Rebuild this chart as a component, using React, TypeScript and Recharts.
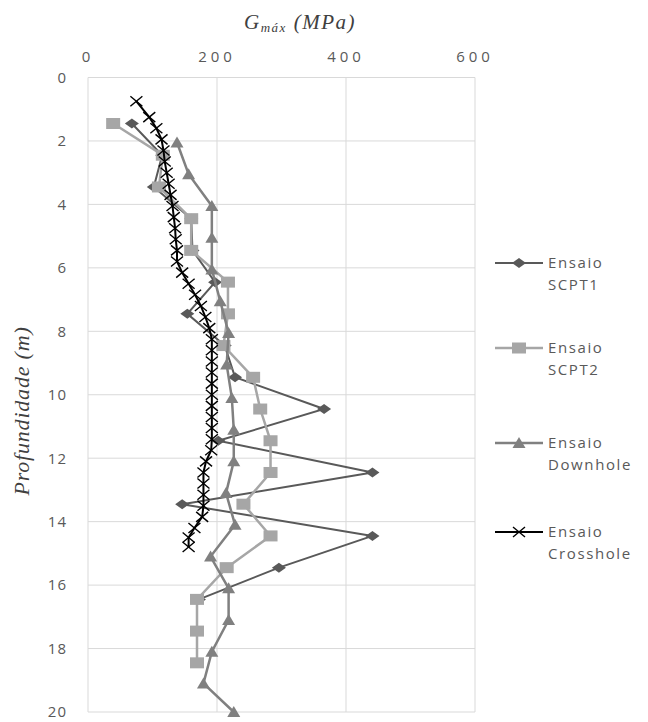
import React from "react";
import {
  CartesianGrid,
  Legend,
  Scatter,
  ScatterChart,
  XAxis,
  YAxis,
} from "recharts";

// Gmáx (MPa) em função da profundidade (m)
const scpt1Depth = [1.45, 2.45, 3.45, 4.45, 5.45, 6.45, 7.45, 8.45, 9.45, 10.45, 11.45, 12.45, 13.45, 14.45, 15.45, 16.45];
const scpt1G = [68, 115, 102, 160, 162, 197, 154, 212, 228, 366, 202, 441, 146, 441, 296, 172];

const scpt2Depth = [1.45, 2.45, 3.45, 4.45, 5.45, 6.45, 7.45, 8.45, 9.45, 10.45, 11.45, 12.45, 13.45, 14.45, 15.45, 16.45, 17.45, 18.45];
const scpt2G = [39, 116, 110, 160, 160, 217, 217, 210, 256, 267, 283, 283, 241, 283, 215, 169, 169, 169];

const downDepth = [2.05, 3.05, 4.05, 5.05, 6.05, 7.05, 8.05, 9.05, 10.1, 11.1, 12.1, 13.1, 14.1, 15.1, 16.1, 17.1, 18.1, 19.1, 20];
const downG = [138, 156, 192, 192, 192, 205, 218, 215, 223, 226, 226, 214, 228, 190, 218, 218, 192, 179, 226];

const crossDepth = [
  0.75, 1.25, 1.6, 1.95, 2.3, 2.65, 3.0, 3.35, 3.7, 4.05, 4.4, 4.75, 5.1, 5.45, 5.8, 6.15, 6.5, 6.85, 7.2, 7.55,
  7.9, 8.25, 8.6, 8.95, 9.3, 9.65, 10.0, 10.35, 10.7, 11.05, 11.4, 11.75, 12.1, 12.45, 12.8, 13.15, 13.5, 13.85,
  14.2, 14.5, 14.8,
];
const crossG = [
  75, 95, 106, 114, 117, 119, 122, 125, 128, 131, 133, 135, 136, 138, 138, 146, 156, 166, 175, 182,
  188, 192, 192, 192, 192, 192, 192, 192, 192, 192, 192, 191, 183, 179, 179, 179, 179, 177,
  165, 156, 156,
];

const xTicks = [0, 200, 400, 600];
const yTicks = [0, 2, 4, 6, 8, 10, 12, 14, 16, 18, 20];

const toRows = (d: number[], g: number[]) => d.map((depth, i) => ({ depth, g: g[i] }));

const C1 = "#595959";
const C2 = "#a6a6a6";
const C3 = "#808080";
const C4 = "#000000";
const TXT = "#595959";

const Diamond = ({ cx, cy }: any) => (
  <polygon points={`${cx - 7},${cy} ${cx},${cy - 5} ${cx + 7},${cy} ${cx},${cy + 5}`} fill={C1} />
);
const Square = ({ cx, cy }: any) => <rect x={cx - 7} y={cy - 5.5} width={14} height={11} fill={C2} />;
const Tri = ({ cx, cy }: any) => (
  <polygon points={`${cx},${cy - 6} ${cx + 6.5},${cy + 5} ${cx - 6.5},${cy + 5}`} fill={C3} />
);
const Cross = ({ cx, cy }: any) => (
  <g stroke={C4} strokeWidth={1.4}>
    <line x1={cx - 6} y1={cy - 5} x2={cx + 6} y2={cy + 5} />
    <line x1={cx + 6} y1={cy - 5} x2={cx - 6} y2={cy + 5} />
  </g>
);

const legendItems = [
  { l1: "Ensaio", l2: "SCPT1", color: C1, w: 2, Mark: Diamond, y: 33 },
  { l1: "Ensaio", l2: "SCPT2", color: C2, w: 2.5, Mark: Square, y: 118 },
  { l1: "Ensaio", l2: "Downhole", color: C3, w: 2.5, Mark: Tri, y: 213 },
  { l1: "Ensaio", l2: "Crosshole", color: C4, w: 2, Mark: Cross, y: 302 },
];

function LegendBox() {
  return (
    <svg width={168} height={340}>
      {legendItems.map((it) => (
        <g key={it.l2}>
          <line x1={15} y1={it.y} x2={63} y2={it.y} stroke={it.color} strokeWidth={it.w} />
          <it.Mark cx={39} cy={it.y} />
          <text x={68} y={it.y + 5} fill={TXT} fontSize={15} fontFamily="Open Sans" letterSpacing={1.6}>
            {it.l1}
          </text>
          <text x={68} y={it.y + 27} fill={TXT} fontSize={15} fontFamily="Open Sans" letterSpacing={1.6}>
            {it.l2}
          </text>
        </g>
      ))}
    </svg>
  );
}

const tickStyle = { fill: TXT, fontSize: 15, fontFamily: "Open Sans", letterSpacing: 4 };

export default function App() {
  return (
    <div style={{ position: "relative", width: 640, height: 714 }}>
      <div
        style={{
          position: "absolute",
          left: 142,
          width: 300,
          top: 2,
          textAlign: "center",
          fontFamily: "Liberation Serif",
          fontStyle: "italic",
          fontSize: 21,
          letterSpacing: 1.5,
          color: "#404040",
        }}
      >
        G<sub style={{ fontSize: 13, verticalAlign: "-3px" }}>máx</sub> (MPa)
      </div>
      <div
        style={{
          position: "absolute",
          left: 14,
          top: 403,
          transform: "translate(-50%, -50%) rotate(-90deg)",
          whiteSpace: "nowrap",
          fontFamily: "Liberation Serif",
          fontStyle: "italic",
          fontSize: 22,
          letterSpacing: 0.8,
          color: "#404040",
        }}
      >
        Profundidade (m)
      </div>
      <ScatterChart width={640} height={714} margin={{ top: 40, right: 173, bottom: 10, left: 0 }}>
        <CartesianGrid stroke="#d9d9d9" strokeWidth={1} />
        <XAxis
          type="number"
          dataKey="g"
          orientation="top"
          domain={[0, 600]}
          ticks={xTicks}
          height={29.5}
          axisLine={false}
          tickLine={false}
          tickSize={0}
          tickMargin={16}
          tick={tickStyle}
        />
        <YAxis
          type="number"
          dataKey="depth"
          domain={[0, 20]}
          ticks={yTicks}
          reversed
          width={80}
          axisLine={false}
          tickLine={false}
          tickSize={0}
          tickMargin={21}
          tick={{ ...tickStyle, letterSpacing: 1 }}
        />
        <Legend
          content={() => <LegendBox />}
          layout="horizontal"
          verticalAlign="middle"
          align="center"
          wrapperStyle={{ left: 472, top: 222, width: 168 }}
        />
        <Scatter
          name="Ensaio SCPT1"
          data={toRows(scpt1Depth, scpt1G)}
          line={{ stroke: C1, strokeWidth: 2 }}
          lineType="joint"
          shape={Diamond}
          isAnimationActive={false}
        />
        <Scatter
          name="Ensaio SCPT2"
          data={toRows(scpt2Depth, scpt2G)}
          line={{ stroke: C2, strokeWidth: 2.5 }}
          lineType="joint"
          shape={Square}
          isAnimationActive={false}
        />
        <Scatter
          name="Ensaio Downhole"
          data={toRows(downDepth, downG)}
          line={{ stroke: C3, strokeWidth: 2.5 }}
          lineType="joint"
          shape={Tri}
          isAnimationActive={false}
        />
        <Scatter
          name="Ensaio Crosshole"
          data={toRows(crossDepth, crossG)}
          line={{ stroke: C4, strokeWidth: 2 }}
          lineType="joint"
          shape={Cross}
          isAnimationActive={false}
        />
      </ScatterChart>
    </div>
  );
}
